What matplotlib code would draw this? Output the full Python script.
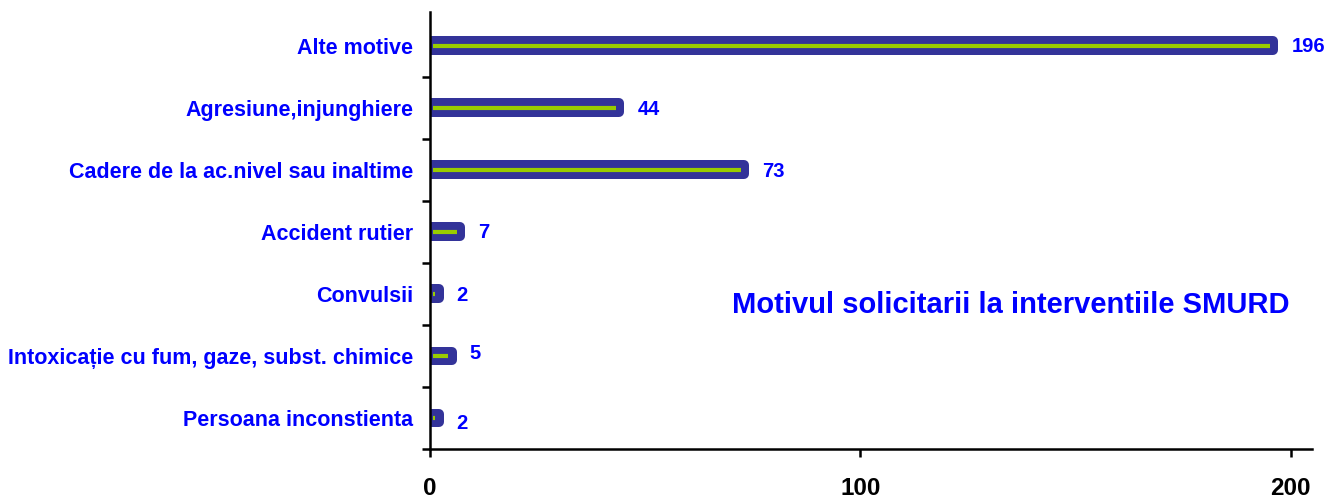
import matplotlib.pyplot as plt

categories = ['Alte motive', 'Agresiune,injunghiere', 'Cadere de la ac.nivel sau inaltime',
              'Accident rutier', 'Convulsii', 'Intoxicație cu fum, gaze, subst. chimice',
              'Persoana inconstienta']
values = [196, 44, 73, 7, 2, 5, 2]
xticks = [0, 100, 200]
title = 'Motivul solicitarii la interventiile SMURD'

# small vertical nudges of the value labels, in points
label_dy = [-0.5, -1.5, -1.5, -0.5, -1, 1.5, -4]

plt.rcParams['font.family'] = ['Liberation Sans', 'DejaVu Sans']
plt.rcParams['font.weight'] = 'bold'

fig = plt.figure(figsize=(13.28, 5.0), dpi=100)
ax = fig.add_axes([0.3238, 0.102, 0.6642, 0.874])

y = list(range(len(categories)))
ax.barh(y, values, height=0.14, color='#333399', edgecolor='#333399',
        linewidth=7.2, joinstyle='round', zorder=2)
ax.hlines(y, [0.8] * len(values), [v - 0.8 for v in values],
          color='#99cc00', linewidth=3, zorder=3)

for yi, v, dy in zip(y, values, label_dy):
    ax.annotate(str(v), (v, yi), xytext=(13, dy), textcoords='offset points',
                ha='left', va='center', color='#0000ff', fontsize=14.5, fontweight='bold')

ax.set_xlim(0, 205)
ax.set_ylim(6.5, -0.54)
ax.set_yticks(y)
ax.set_yticklabels(categories, color='#0000ff', fontsize=15.5, fontweight='bold')
ax.set_yticks([i + 0.5 for i in y], minor=True)
ax.tick_params(axis='y', which='major', length=0, pad=12)
ax.tick_params(axis='y', which='minor', length=6, width=1.8, direction='out')
ax.set_xticks(xticks)
ax.set_xticklabels([str(t) for t in xticks], fontsize=17.5, fontweight='bold')
ax.tick_params(axis='x', length=6, width=1.8, direction='out', pad=14)

for s in ['top', 'right']:
    ax.spines[s].set_visible(False)
for s in ['left', 'bottom']:
    ax.spines[s].set_linewidth(1.8)
    ax.spines[s].set_zorder(4)

ax.text(0.658, 0.33, title, transform=ax.transAxes, ha='center', va='center',
        color='#0000ff', fontsize=21, fontweight='bold')

fig.savefig('out.png', dpi=100)
